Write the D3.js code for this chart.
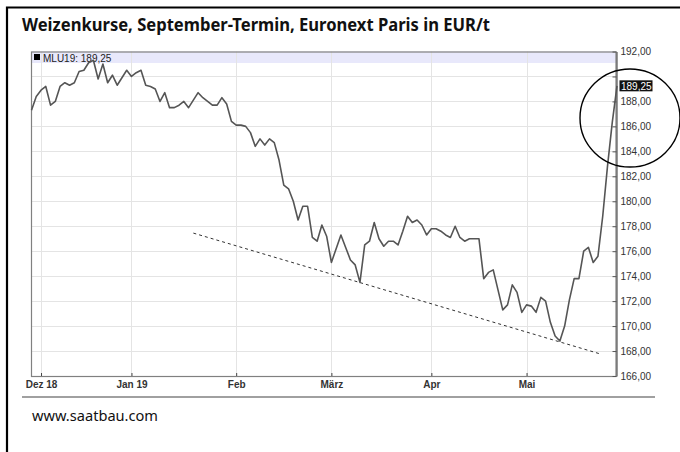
<!DOCTYPE html>
<html>
<head>
<meta charset="utf-8">
<script src="https://cdn.jsdelivr.net/npm/d3@7"></script>
<style>
  body { margin: 0; background: #fff; }
  svg { display: block; }
</style>
</head>
<body>
<svg width="680" height="452"></svg>
<script>
// MLU19 daily closes, one per trading day (29 Nov 2018 .. 29 May 2019)
const prices = [
  187.3, 188.4, 188.9, 189.2, 187.7, 188.0, 189.2, 189.5, 189.3, 189.5,
  190.4, 190.5, 191.1, 191.3, 189.8, 191.0, 189.5, 190.1, 189.3, 189.9,
  190.5, 190.0, 190.3, 190.5, 189.3, 189.2, 189.0, 188.0, 188.7, 187.5,
  187.5, 187.7, 188.0, 187.5, 188.1, 188.7, 188.3, 188.0, 187.7, 187.7,
  188.3, 187.8, 186.4, 186.1, 186.1, 186.0, 185.5, 184.4, 185.0, 184.5,
  185.0, 184.7, 183.3, 181.3, 181.0, 180.0, 178.5, 179.6, 179.6, 177.1,
  176.8, 178.1, 177.2, 175.1, 176.2, 177.3, 176.3, 175.3, 174.9, 173.5,
  176.5, 176.8, 178.3, 177.0, 176.4, 176.8, 176.8, 176.5, 177.6, 178.8,
  178.3, 178.5, 178.1, 177.3, 177.8, 177.8, 177.6, 177.3, 177.1, 178.0,
  177.1, 176.8, 177.0, 177.0, 177.0, 173.8, 174.3, 174.5, 172.9, 171.3,
  171.7, 173.3, 172.7, 171.1, 171.7, 171.6, 171.1, 172.3, 172.0, 170.3,
  169.2, 168.8, 170.0, 172.1, 173.8, 173.8, 176.0, 176.3, 175.1, 175.6,
  178.8, 182.8, 186.3, 189.25
];

const monthLabels = ["Dez 18", "Jan 19", "Feb", "März", "Apr", "Mai"];
const monthIndex = [2, 21, 43, 63, 84, 104];
const yTickValues = [166, 168, 170, 172, 174, 176, 178, 180, 182, 184, 186, 188, 190, 192];

// hand-drawn support line (trading-day index, price)
const trendIndex = [34, 119.2];
const trendPrice = [177.45, 167.8];

const seriesName = "MLU19";
const lastPrice = prices[prices.length - 1];

const title = "Weizenkurse, September-Termin, Euronext Paris in EUR/t";
const source = "www.saatbau.com";

const svg = d3.select("svg");
const plotLeft = 31, plotRight = 616.5, plotTop = 51.5, plotBottom = 376;

const x = d3.scaleLinear().domain([0, prices.length - 1]).range([31.5, 617]);
const y = d3.scaleLinear().domain([166, 192]).range([plotBottom, plotTop]);

const de = d3.formatLocale({ decimal: ",", thousands: ".", grouping: [3], currency: ["", " €"] });
const fmt = de.format(".2f");

svg.append("rect").attr("width", 680).attr("height", 452).attr("fill", "#fff");

// outer frame (only top and left visible)
svg.append("path")
  .attr("d", "M7,452 V7.5 H680")
  .attr("fill", "none")
  .attr("stroke", "#000")
  .attr("stroke-width", 2.2);

svg.append("text")
  .attr("x", 22)
  .attr("y", 31)
  .attr("font-family", "'Noto Sans', 'Open Sans', sans-serif")
  .attr("font-weight", "bold")
  .attr("font-size", 17)
  .attr("fill", "#111")
  .attr("textLength", 468)
  .attr("lengthAdjust", "spacingAndGlyphs")
  .text(title);

// legend band
svg.append("rect")
  .attr("x", plotLeft).attr("y", plotTop)
  .attr("width", plotRight - plotLeft).attr("height", 11.5)
  .attr("fill", "#e8e8fb");

// grid
const grid = svg.append("g").attr("stroke", "#e4e4e4").attr("stroke-width", 1);
grid.selectAll("line.h")
  .data(yTickValues.slice(1, -1))
  .enter()
  .append("line")
  .attr("class", "h")
  .attr("x1", plotLeft).attr("x2", plotRight)
  .attr("y1", (d) => Math.round(y(d)) + 0.5)
  .attr("y2", (d) => Math.round(y(d)) + 0.5);
grid.selectAll("line.v")
  .data(monthIndex)
  .enter()
  .append("line")
  .attr("class", "v")
  .attr("x1", (d) => Math.round(x(d)) + 0.5)
  .attr("x2", (d) => Math.round(x(d)) + 0.5)
  .attr("y1", plotTop).attr("y2", plotBottom);

// plot frame
svg.append("rect")
  .attr("x", plotLeft + 0.5).attr("y", plotTop + 0.5)
  .attr("width", plotRight - plotLeft - 1).attr("height", plotBottom - plotTop)
  .attr("fill", "none")
  .attr("stroke", "#808080")
  .attr("stroke-width", 1.2);

// legend text
svg.append("rect")
  .attr("x", 34).attr("y", 54).attr("width", 6).attr("height", 6)
  .attr("fill", "#000");
svg.append("text")
  .attr("x", 43).attr("y", 61.5)
  .attr("font-family", "'Liberation Sans', Arial, sans-serif")
  .attr("font-size", 10)
  .attr("fill", "#222")
  .text(`${seriesName}: ${fmt(lastPrice)}`);

// trend line
svg.append("line")
  .attr("x1", x(trendIndex[0])).attr("y1", y(trendPrice[0]))
  .attr("x2", x(trendIndex[1])).attr("y2", y(trendPrice[1]))
  .attr("stroke", "#333")
  .attr("stroke-width", 1)
  .attr("stroke-dasharray", "3,3");

// price line
const line = d3.line()
  .x((d, i) => x(i))
  .y((d) => y(d));
svg.append("path")
  .datum(prices)
  .attr("d", line)
  .attr("fill", "none")
  .attr("stroke", "#555")
  .attr("stroke-width", 1.6)
  .attr("stroke-linejoin", "round");

// right axis
const yAxis = svg.append("g")
  .attr("transform", `translate(${plotRight},0)`)
  .call(
    d3.axisRight(y)
      .tickValues(yTickValues)
      .tickSizeInner(-4)
      .tickSizeOuter(0)
      .tickPadding(4)
      .tickFormat(fmt)
  );
yAxis.select(".domain").attr("stroke", "#555").attr("stroke-width", 1.2);
yAxis.selectAll(".tick line").attr("stroke", "#555");
yAxis.selectAll("text")
  .attr("font-family", "'Liberation Sans', Arial, sans-serif")
  .attr("font-size", 10)
  .attr("fill", "#333");
// the last-price label hides the tick label it would overlap
yAxis.selectAll(".tick text")
  .filter((d) => Math.abs(y(d) - y(lastPrice)) < 11)
  .remove();

// last price marker
const lastG = svg.append("g").attr("transform", `translate(${plotRight + 3},${y(lastPrice)})`);
lastG.append("rect")
  .attr("x", 0).attr("y", -5.5).attr("width", 33).attr("height", 11)
  .attr("fill", "#111");
lastG.append("text")
  .attr("x", 1.5).attr("y", 4)
  .attr("font-family", "'Liberation Sans', Arial, sans-serif")
  .attr("font-size", 10)
  .attr("fill", "#fff")
  .text(fmt(lastPrice));

// bottom axis
const xAxis = svg.append("g")
  .attr("transform", `translate(0,${plotBottom})`)
  .call(
    d3.axisBottom(x)
      .tickValues(monthIndex)
      .tickSizeInner(-3)
      .tickSizeOuter(0)
      .tickPadding(5)
      .tickFormat((d, i) => monthLabels[i])
  );
xAxis.select(".domain").remove();
xAxis.selectAll(".tick line").attr("stroke", "#444");
xAxis.selectAll("text")
  .attr("font-family", "'Liberation Sans', Arial, sans-serif")
  .attr("font-size", 10)
  .attr("font-weight", "bold")
  .attr("fill", "#333");

// circle around the last price
svg.append("ellipse")
  .attr("cx", 630).attr("cy", 118)
  .attr("rx", 50).attr("ry", 49)
  .attr("fill", "none")
  .attr("stroke", "#000")
  .attr("stroke-width", 1.4);

// separator and source
svg.append("line")
  .attr("x1", 22).attr("x2", 655)
  .attr("y1", 397).attr("y2", 397)
  .attr("stroke", "#a0a0a0")
  .attr("stroke-width", 2);

svg.append("text")
  .attr("x", 32)
  .attr("y", 421)
  .attr("font-family", "'Noto Sans', 'Open Sans', sans-serif")
  .attr("font-size", 14)
  .attr("fill", "#111")
  .attr("textLength", 126)
  .attr("lengthAdjust", "spacingAndGlyphs")
  .text(source);
</script>
</body>
</html>
